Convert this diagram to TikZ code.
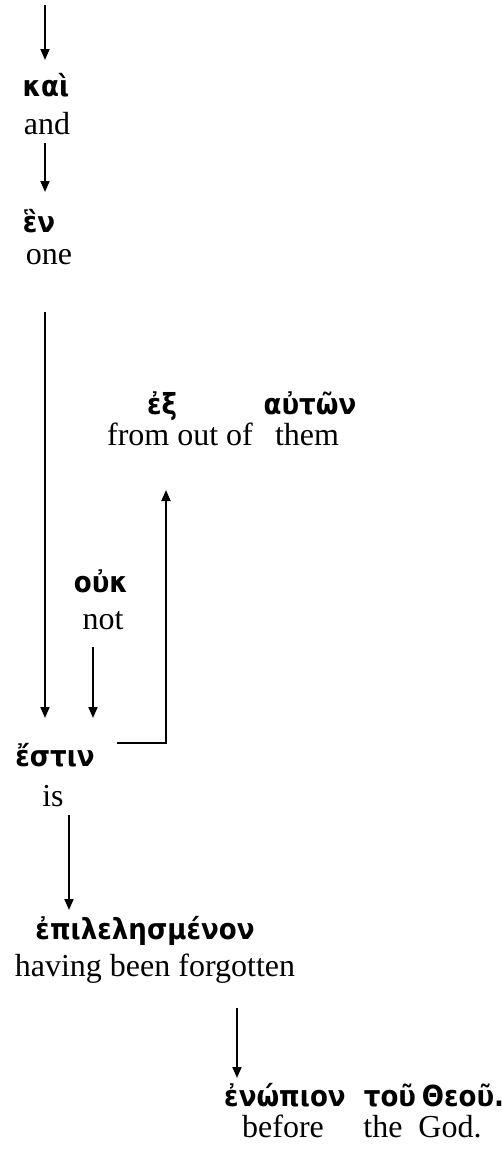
\documentclass[tikz,border=0pt]{standalone}
\usepackage{fontspec}
\setmainfont{Liberation Serif}
\newfontfamily\gkfont{DejaVu Sans}[FakeStretch=0.9]
\usetikzlibrary{arrows.meta}
\tikzset{
  en/.style={anchor=base, inner sep=0pt, font=\fontsize{32}{36}\selectfont},
  gk/.style={anchor=base, inner sep=0pt, font=\gkfont\bfseries\fontsize{29}{32}\selectfont},
  arr/.style={line width=1.8pt, -{Triangle[length=11pt,width=9pt]}},
  ln/.style={line width=1.8pt}
}
\begin{document}
\begin{tikzpicture}[x=1pt,y=-1pt]
\useasboundingbox (0,0) rectangle (502,1165);
% words
\node[gk] (kai) at (46,96) {καὶ};
\node[en] (and) at (47,134) {and};
\node[gk] (hen) at (39,232) {ἓν};
\node[en] (one) at (49,264) {one};
\node[gk] (ex) at (162,414) {ἐξ};
\node[en] (fromoutof) at (180,445) {from out of};
\node[gk] (auton) at (310,414) {αὐτῶν};
\node[en] (them) at (307,445) {them};
\node[gk] (ouk) at (101,592) {οὐκ};
\node[en] (not) at (103,629) {not};
\node[gk] (estin) at (55,766) {ἔστιν};
\node[en] (is) at (53,806) {is};
\node[gk] (epil) at (145,939) {ἐπιλελησμένον};
\node[en] (having) at (155,976) {having been forgotten};
\node[gk] (enopion) at (285,1106) {ἐνώπιον};
\node[gk] (tou) at (390,1106) {τοῦ};
\node[gk] (theou) at (463,1106) {Θεοῦ.};
\node[en] (before) at (283,1137) {before};
\node[en] (the) at (383,1137) {the};
\node[en] (god) at (450,1137) {God.};
% connector ends
\coordinate (top) at (45,5);
\coordinate (kaiN) at (45,60);
\coordinate (andS) at (45,143);
\coordinate (henN) at (45,192);
\coordinate (oneS) at (45,312);
\coordinate (estinN) at (45,718);
\coordinate (notS) at (93,647);
\coordinate (estinN2) at (93,718);
\coordinate (estinE) at (117,743);
\coordinate (bend) at (166,743);
\coordinate (exS) at (166,490);
\coordinate (isS) at (69,815);
\coordinate (epilN) at (69,910);
\coordinate (havingS) at (237,1008);
\coordinate (enopionN) at (237,1078);
% connectors
\draw[arr] (top) -- (kaiN);
\draw[arr] (andS) -- (henN);
\draw[arr] (oneS) -- (estinN);
\draw[arr] (notS) -- (estinN2);
\draw[arr] (estinE) -- (bend) -- (exS);
\draw[arr] (isS) -- (epilN);
\draw[arr] (havingS) -- (enopionN);
\end{tikzpicture}
\end{document}
